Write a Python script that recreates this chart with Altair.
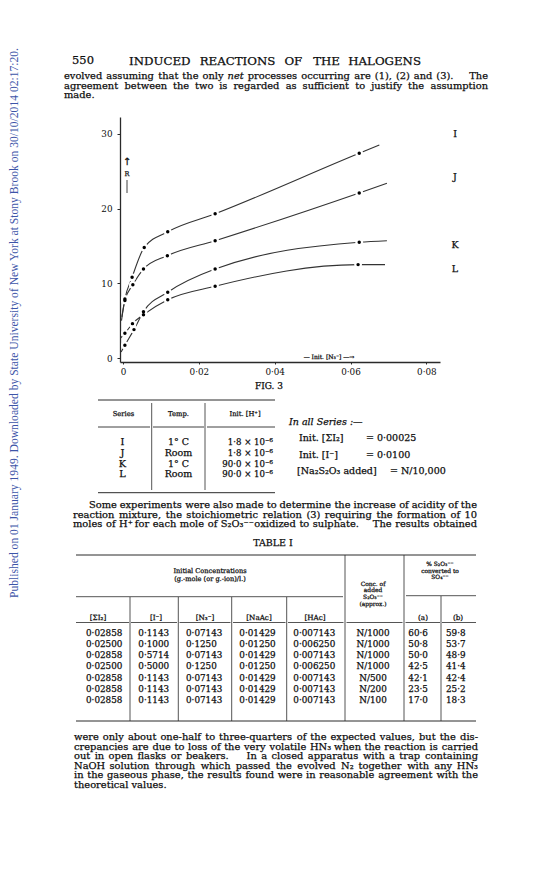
import altair as alt
import pandas as pd

# ======================= values read from the page =======================
# Fig. 3 : R against initial [N3-] for the four series
I_x = [0.0005, 0.0024, 0.0056, 0.0118, 0.0243, 0.0623]
I_y = [7.9, 10.8, 14.8, 16.9, 19.3, 27.4]
J_x = [0.0005, 0.0026, 0.0054, 0.0117, 0.0243, 0.0623]
J_y = [7.7, 9.8, 11.9, 13.7, 15.7, 22.1]
K_x = [0.0005, 0.0029, 0.0054, 0.0118, 0.0243, 0.0623]
K_y = [1.7, 3.8, 6.2, 8.8, 11.9, 15.5]
L_x = [0.0005, 0.0025, 0.0054, 0.0118, 0.0243, 0.0620]
L_y = [3.3, 4.6, 5.8, 7.8, 9.6, 12.5]
# where each drawn curve starts and stops (beyond the plotted points)
I_ends_x = [-0.0003, 0.0676]
I_ends_y = [5.5, 28.5]
J_ends_x = [-0.0004, 0.0696]
J_ends_y = [5.0, 23.4]
K_ends_x = [-0.0005, 0.0696]
K_ends_y = [0.8, 15.7]
L_ends_x = [-0.0006, 0.0691]
L_ends_y = [2.7, 12.5]
series_names = ["I", "J", "K", "L"]
x_ticks = [0, 0.02, 0.04, 0.06, 0.08]
y_ticks = [0, 10, 20, 30]

# legend table under the figure
leg_series = ["I", "J", "K", "L"]
leg_temp = ["1° C", "Room", "1° C", "Room"]
leg_h = ["1·8 × 10⁻⁶", "1·8 × 10⁻⁶", "90·0 × 10⁻⁶", "90·0 × 10⁻⁶"]

# Table I
t_I2 = ["0·02858", "0·02500", "0·02858", "0·02500", "0·02858", "0·02858", "0·02858"]
t_I = ["0·1143", "0·1000", "0·5714", "0·5000", "0·1143", "0·1143", "0·1143"]
t_N3 = ["0·07143", "0·1250", "0·07143", "0·1250", "0·07143", "0·07143", "0·07143"]
t_NaAc = ["0·01429", "0·01250", "0·01429", "0·01250", "0·01429", "0·01429", "0·01429"]
t_HAc = ["0·007143", "0·006250", "0·007143", "0·006250", "0·007143", "0·007143", "0·007143"]
t_conc = ["N/1000", "N/1000", "N/1000", "N/1000", "N/500", "N/200", "N/100"]
t_a = ["60·6", "50·8", "50·0", "42·5", "42·1", "23·5", "17·0"]
t_b = ["59·8", "53·7", "48·9", "41·4", "42·4", "25·2", "18·3"]

# running text
para1 = [
    "evolved assuming that the only ~net processes occurring are (1), (2) and (3).   The",
    "agreement between the two is regarded as sufficient to justify the assumption",
]
para1_last = "made."
para2 = [
    "Some experiments were also made to determine the increase of acidity of the",
    "reaction mixture, the stoichiometric relation (3) requiring the formation of 10",
    "moles of H⁺ for each mole of S₂O₃⁻⁻ oxidized to sulphate.   The results obtained",
]
para3 = [
    "were only about one-half to three-quarters of the expected values, but the dis-",
    "crepancies are due to loss of the very volatile HN₃ when the reaction is carried",
    "out in open flasks or beakers.   In a closed apparatus with a trap containing",
    "NaOH solution through which passed the evolved N₂ together with any HN₃",
    "in the gaseous phase, the results found were in reasonable agreement with the",
]
para3_last = "theoretical values."
side_note = "Published on 01 January 1949. Downloaded by State University of New York at Stony Brook on 30/10/2014 02:17:20."

# ======================= layout =======================
W, H = 540, 873
SERIF = "DejaVu Serif"
TIMES = "Liberation Serif"
INK = "#0d0d0d"


def P(v):
    return v - 8


# approximate advance widths of DejaVu Serif (units of 1/2048 em)
ADV = {" ": 651, "a": 1221, "b": 1311, "c": 1147, "d": 1311, "e": 1212, "f": 739, "g": 1311,
       "h": 1323, "i": 657, "j": 641, "k": 1245, "l": 657, "m": 1978, "n": 1323, "o": 1233,
       "p": 1311, "q": 1311, "r": 1010, "s": 1053, "t": 821, "u": 1323, "v": 1165, "w": 1704,
       "x": 1165, "y": 1165, "z": 1075, "A": 1479, "B": 1417, "C": 1497, "D": 1587, "E": 1425,
       "F": 1339, "G": 1606, "H": 1720, "I": 821, "J": 831, "K": 1487, "L": 1313, "M": 1995,
       "N": 1683, "O": 1606, "P": 1329, "Q": 1606, "R": 1450, "S": 1323, "T": 1372, "U": 1626,
       "V": 1479, "W": 2120, "X": 1479, "Y": 1372, "Z": 1423, ".": 651, ",": 651, "(": 799,
       ")": 799, "-": 739, ":": 690, "/": 690, "'": 563, "·": 651, "⁻": 820, "⁺": 820,
       "₂": 820, "₃": 820, "₄": 820}


def tw(s, size):
    return sum(ADV.get(c, 1303) for c in s) / 2048 * size


items = []


def add(t, x, y, size, align="left", font=SERIF, style="normal", color=INK, angle=0):
    items.append(dict(t=t, x=P(x), y=P(y), fs=size, align=align, font=font,
                      style=style, color=color, angle=angle))


def justify(line, left, right, y, size):
    toks = line.split(" ")
    words, gaps, extra = [], [], 0
    for tok in toks:
        if tok == "":
            extra += 1
            continue
        if words:
            gaps.append(1 + 1.5 * extra)
        words.append(tok)
        extra = 0
    widths = [tw(w.lstrip("~"), size) for w in words]
    unit = (right - left - sum(widths)) / max(sum(gaps), 1)
    x = left
    for i, w in enumerate(words):
        if i == len(words) - 1 and i > 0:
            add(w.lstrip("~"), right, y, size, align="right",
                style="italic" if w.startswith("~") else "normal")
        else:
            add(w.lstrip("~"), x, y, size, style="italic" if w.startswith("~") else "normal")
        x += widths[i] + (gaps[i] * unit if i < len(gaps) else 0)


rules = []


def rule(x1, y1, x2, y2, w=0.8):
    rules.append(dict(x=P(x1), y=P(y1), x2=P(x2), y2=P(y2), sw=w))


BODY = 9.9
LEAD = 9.6
# running head
add("550", 72, 60.5, 11.5)
justify("INDUCED REACTIONS OF THE HALOGENS", 129, 421, 60.5, 11.8)
# paragraph 1
for i, ln in enumerate(para1):
    justify(ln, 64, 488, 76 + LEAD * i, BODY)
add(para1_last, 64, 76 + LEAD * 2, BODY)

# ---- figure annotations ----
fx = 455
for name, yy in zip(series_names, [133.5, 177, 245, 268.5]):
    add(name, fx, yy, 9.5, align="center")
add("↑", 127, 161.5, 10, align="center", font="DejaVu Sans")
add("R", 127, 173.5, 6.5, align="center")
rule(127, 180, 127, 193, 0.9)
add("— Init. [N₃⁻] —→", 329, 356.5, 6, align="center")
add("FIG. 3", 269, 386, 9, align="center")

# ---- series table ----
rule(98, 400, 275, 400, 1.0)
for a, b in [(98, 150), (153, 204), (207, 275)]:
    rule(a, 427, b, 427, 0.9)
rule(151.7, 403, 151.7, 490)
rule(205, 403, 205, 490)
rule(98, 492.7, 275, 492.7, 1.0)
add("Series", 123.5, 413.5, 6.8, align="center")
add("Temp.", 178.5, 413.5, 6.8, align="center")
add("Init. [H⁺]", 245, 413.5, 6.8, align="center")
for i in range(4):
    yy = 442.3 + 10.7 * i
    add(leg_series[i], 122.5, yy, 9.8, align="center")
    add(leg_temp[i], 178.5, yy, 9.5, align="center")
    add(leg_h[i], 273, yy, 8.6, align="right")
add("In all Series :—", 289, 422, 9.5, style="italic")
add("Init. [ΣI₂]", 299, 438, 9.5)
add("= 0·00025", 366, 438, 9.5)
add("Init. [I⁻]", 299, 454.5, 9.5)
add("= 0·0100", 366, 454.5, 9.5)
add("[Na₂S₂O₃ added]", 297, 471, 9.5)
add("= N/10,000", 390, 471, 9.5)

# paragraph 2
for i, ln in enumerate(para2):
    justify(ln, 89 if i == 0 else 73, 477, 505 + LEAD * i, BODY)
add("TABLE  I", 273, 543, 9.5, align="center")

# ---- Table I ----
rule(76, 555, 476, 555, 1.0)
rule(76, 596.7, 343, 596.7, 0.8)
rule(406, 595.7, 476, 595.7, 0.8)
for a, b in [(76, 129), (131, 177), (179.5, 230.5), (233, 285.5), (288, 343.5),
             (346.5, 402.5), (405.5, 440), (442, 476)]:
    rule(a, 622.5, b, 622.5, 0.8)
rule(76, 721, 476, 721, 1.0)
for xv in [130, 178.3, 231.7, 286.7]:
    rule(xv, 597, xv, 721)
for xv in [345, 404]:
    rule(xv, 555, xv, 721)
rule(441, 596, 441, 721)
add("Initial Concentrations", 210, 570.5, 6.6, align="center")
add("(g.-mole (or g.-ion)/l.)", 210, 578.5, 6.6, align="center")
for s, yy in [("Conc. of", 583.5), ("added", 590), ("S₂O₃⁻⁻", 596.5), ("(approx.)", 603.5)]:
    add(s, 373, yy, 5.9, align="center")
for s, yy in [("% S₂O₃⁻⁻", 564), ("converted to", 570.5), ("SO₄⁻⁻", 577)]:
    add(s, 440, yy, 5.9, align="center")
for s, xx in [("[ΣI₂]", 98), ("[I⁻]", 156), ("[N₃⁻]", 205), ("[NaAc]", 259), ("[HAc]", 315),
              ("(a)", 423), ("(b)", 458)]:
    add(s, xx, 617.7, 7.2, align="center")
cols = [(t_I2, 86, "left"), (t_I, 138.3, "left"), (t_N3, 186, "left"), (t_NaAc, 239.3, "left"),
        (t_HAc, 293.3, "left"), (t_conc, 373, "center"), (t_a, 408.3, "left"), (t_b, 446, "left")]
for col, xx, al in cols:
    for i, v in enumerate(col):
        add(v, xx, 632.5 + 11.3 * i, 8.8, align=al)

# paragraph 3
for i, ln in enumerate(para3):
    justify(ln, 74, 478, 737 + LEAD * i, BODY)
add(para3_last, 74, 737 + LEAD * 5, BODY)

# side note
add(side_note, 15, 323, 11.6, align="center", font=TIMES, color="#3d55a8", angle=270)

# ======================= chart =======================
curve_rows, dot_rows = [], []
for name, xs_, ys_, ex, ey in [("I", I_x, I_y, I_ends_x, I_ends_y),
                                ("J", J_x, J_y, J_ends_x, J_ends_y),
                                ("K", K_x, K_y, K_ends_x, K_ends_y),
                                ("L", L_x, L_y, L_ends_x, L_ends_y)]:
    cx = [ex[0]] + xs_ + [ex[1]]
    cy = [ey[0]] + ys_ + [ey[1]]
    for k, (a, b) in enumerate(zip(cx, cy)):
        curve_rows.append(dict(series=name, k=k, x=a, y=b))
    for a, b in zip(xs_, ys_):
        dot_rows.append(dict(series=name, x=a, y=b))
curves = pd.DataFrame(curve_rows)
dots = pd.DataFrame(dot_rows)

X_DOM = [-0.00079, 0.0836]
Y_DOM = [-0.535, 32.26]
xs = alt.Scale(domain=X_DOM, range=[P(120), P(440)], nice=False, zero=False)
ys = alt.Scale(domain=Y_DOM, range=[P(362), P(117)], nice=False, zero=False)

x_axis = alt.Axis(values=x_ticks, orient="bottom", offset=P(362) - H, title="",
                  labelExpr="datum.value == 0 ? '0' : replace(format(datum.value, '.2f'), '.', '·')",
                  tickSize=2, labelPadding=3, labelFont=SERIF, labelFontSize=8.8, labelColor=INK,
                  domainColor="#2a2a2a", domainWidth=1.3, tickColor="#2a2a2a", grid=False,
                  labelFlush=False, labelOverlap=False)
y_axis = alt.Axis(values=y_ticks, orient="left", offset=-P(120), title="",
                  tickSize=3, labelPadding=5, labelFont=SERIF, labelFontSize=8.8, labelColor=INK,
                  domainColor="#2a2a2a", domainWidth=1.3, tickColor="#2a2a2a", grid=False,
                  labelOverlap=False)

lines = alt.Chart(curves).mark_line(interpolate="monotone", color="#333333", strokeWidth=1.1).encode(
    x=alt.X("x:Q", scale=xs, axis=x_axis),
    y=alt.Y("y:Q", scale=ys, axis=y_axis),
    detail="series:N",
    order="k:Q",
)
halo = alt.Chart(dots).mark_circle(color="white", opacity=1, size=60).encode(
    x=alt.X("x:Q", scale=xs, axis=None), y=alt.Y("y:Q", scale=ys, axis=None))
dot = alt.Chart(dots).mark_circle(color="black", opacity=1, size=12).encode(
    x=alt.X("x:Q", scale=xs, axis=None), y=alt.Y("y:Q", scale=ys, axis=None))

rules_df = pd.DataFrame(rules)
rule_layers = []
for sw, g in rules_df.groupby("sw"):
    rule_layers.append(alt.Chart(g).mark_rule(color="#2a2a2a", strokeWidth=float(sw)).encode(
        x=alt.X("x:Q", scale=None, axis=None), x2="x2:Q",
        y=alt.Y("y:Q", scale=None, axis=None), y2="y2:Q"))

tdf = pd.DataFrame(items)
text_layers = []
for (align, font, style, color, angle), g in tdf.groupby(["align", "font", "style", "color", "angle"]):
    ink_stroke = 0.0 if font == TIMES else 0.25
    text_layers.append(alt.Chart(g).mark_text(
        align=align, baseline="middle", font=font, fontStyle=style, color=color,
        angle=float(angle), stroke=color, strokeWidth=ink_stroke
    ).encode(
        x=alt.X("x:Q", scale=None, axis=None),
        y=alt.Y("y:Q", scale=None, axis=None),
        text="t:N",
        size=alt.Size("fs:Q", scale=None, legend=None),
    ))

chart = alt.layer(lines, halo, dot, *rule_layers, *text_layers).resolve_scale(
    x="independent", y="independent"
).properties(
    width=W, height=H, padding=0, background="white",
    autosize=alt.AutoSizeParams(type="none"),
).configure_view(stroke=None)

chart.save("out.html", embed_options={"renderer": "svg", "actions": False})
